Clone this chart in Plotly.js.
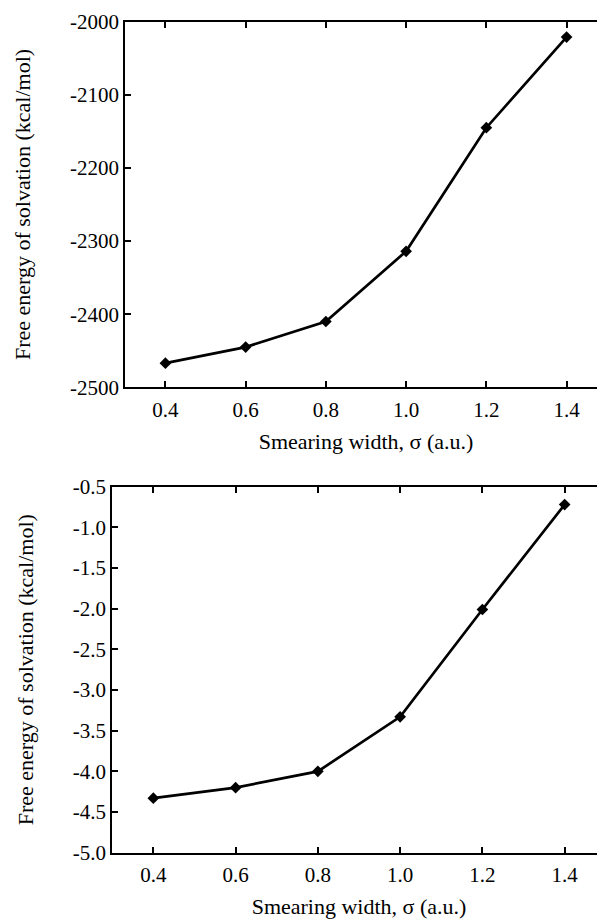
<!DOCTYPE html>
<html>
<head>
<meta charset="utf-8">
<script src="https://cdn.plot.ly/plotly-3.0.1.min.js"></script>
<style>
  html, body { margin: 0; padding: 0; overflow: hidden; background: #fff; }
  #chart { width: 610px; height: 919px; }
</style>
</head>
<body>
<div id="chart"></div>
<script>
// Smearing width of the Gaussian charge distribution (a.u.)
const sigma = [0.4, 0.6, 0.8, 1.0, 1.2, 1.4];
// Free energy of solvation (kcal/mol), upper panel
const energyUpper = [-2467, -2445, -2410, -2314, -2145, -2021];
// Free energy of solvation (kcal/mol), lower panel
const energyLower = [-4.33, -4.20, -4.00, -3.33, -2.01, -0.72];

const xTickVals = [0.4, 0.6, 0.8, 1.0, 1.2, 1.4];
const xTickText = ['0.4', '0.6', '0.8', '1.0', '1.2', '1.4'];
const yUpperTicks = [-2500, -2400, -2300, -2200, -2100, -2000];
const yUpperText = ['-2500', '-2400', '-2300', '-2200', '-2100', '-2000'];
const yLowerTicks = [-5.0, -4.5, -4.0, -3.5, -3.0, -2.5, -2.0, -1.5, -1.0, -0.5];
const yLowerText = ['-5.0', '-4.5', '-4.0', '-3.5', '-3.0', '-2.5', '-2.0', '-1.5', '-1.0', '-0.5'];

const xTitle = 'Smearing width, σ (a.u.)';
const yTitle = 'Free energy of solvation (kcal/mol)';

const W = 610, H = 919;
const serif = 'Liberation Serif, DejaVu Serif, Noto Serif, serif';
const tickFont = { family: serif, size: 21, color: '#000' };
const titleFont = { family: serif, size: 22, color: '#000' };

const lineStyle = { color: '#000', width: 2.7 };
const markerStyle = { symbol: 'diamond', size: 9, color: '#000' };

const traces = [
  { x: sigma, y: energyUpper, xaxis: 'x', yaxis: 'y', mode: 'lines+markers',
    line: lineStyle, marker: markerStyle, cliponaxis: false },
  { x: sigma, y: energyLower, xaxis: 'x2', yaxis: 'y2', mode: 'lines+markers',
    line: lineStyle, marker: markerStyle, cliponaxis: false }
];

function xAxis(domain, anchor) {
  return {
    domain: domain, anchor: anchor, range: [0.3, 1.5],
    tickmode: 'array', tickvals: xTickVals, ticktext: xTickText,
    ticks: 'inside', ticklen: 6, tickwidth: 2, tickcolor: '#000',
    showline: true, linecolor: '#000', linewidth: 2, mirror: 'ticks',
    showgrid: false, zeroline: false, tickfont: tickFont,
    ticklabelstandoff: 2,
    title: { text: xTitle, font: titleFont, standoff: 13 }
  };
}
function yAxis(domain, anchor, range, vals, text) {
  return {
    domain: domain, anchor: anchor, range: range,
    tickmode: 'array', tickvals: vals, ticktext: text,
    ticks: 'inside', ticklen: 6, tickwidth: 2, tickcolor: '#000',
    showline: true, linecolor: '#000', linewidth: 2, mirror: 'ticks',
    showgrid: false, zeroline: false, tickfont: tickFont,
    ticklabelstandoff: 0,
    title: { text: yTitle, font: titleFont, standoff: 33 }
  };
}

const layout = {
  width: W, height: H,
  margin: { l: 0, r: 0, t: 0, b: 0 },
  paper_bgcolor: '#fff', plot_bgcolor: '#fff',
  showlegend: false,
  font: { family: serif, color: '#000' },
  xaxis: xAxis([125.3 / W, 606.7 / W], 'y'),
  yaxis: yAxis([1 - 387.3 / H, 1 - 21.7 / H], 'x', [-2500, -2000], yUpperTicks, yUpperText),
  xaxis2: xAxis([112.2 / W, 605.8 / W], 'y2'),
  yaxis2: yAxis([1 - 852.7 / H, 1 - 486.7 / H], 'x2', [-5.0, -0.5], yLowerTicks, yLowerText)
};

Plotly.newPlot('chart', traces, layout, { displayModeBar: false, staticPlot: true });
</script>
</body>
</html>
